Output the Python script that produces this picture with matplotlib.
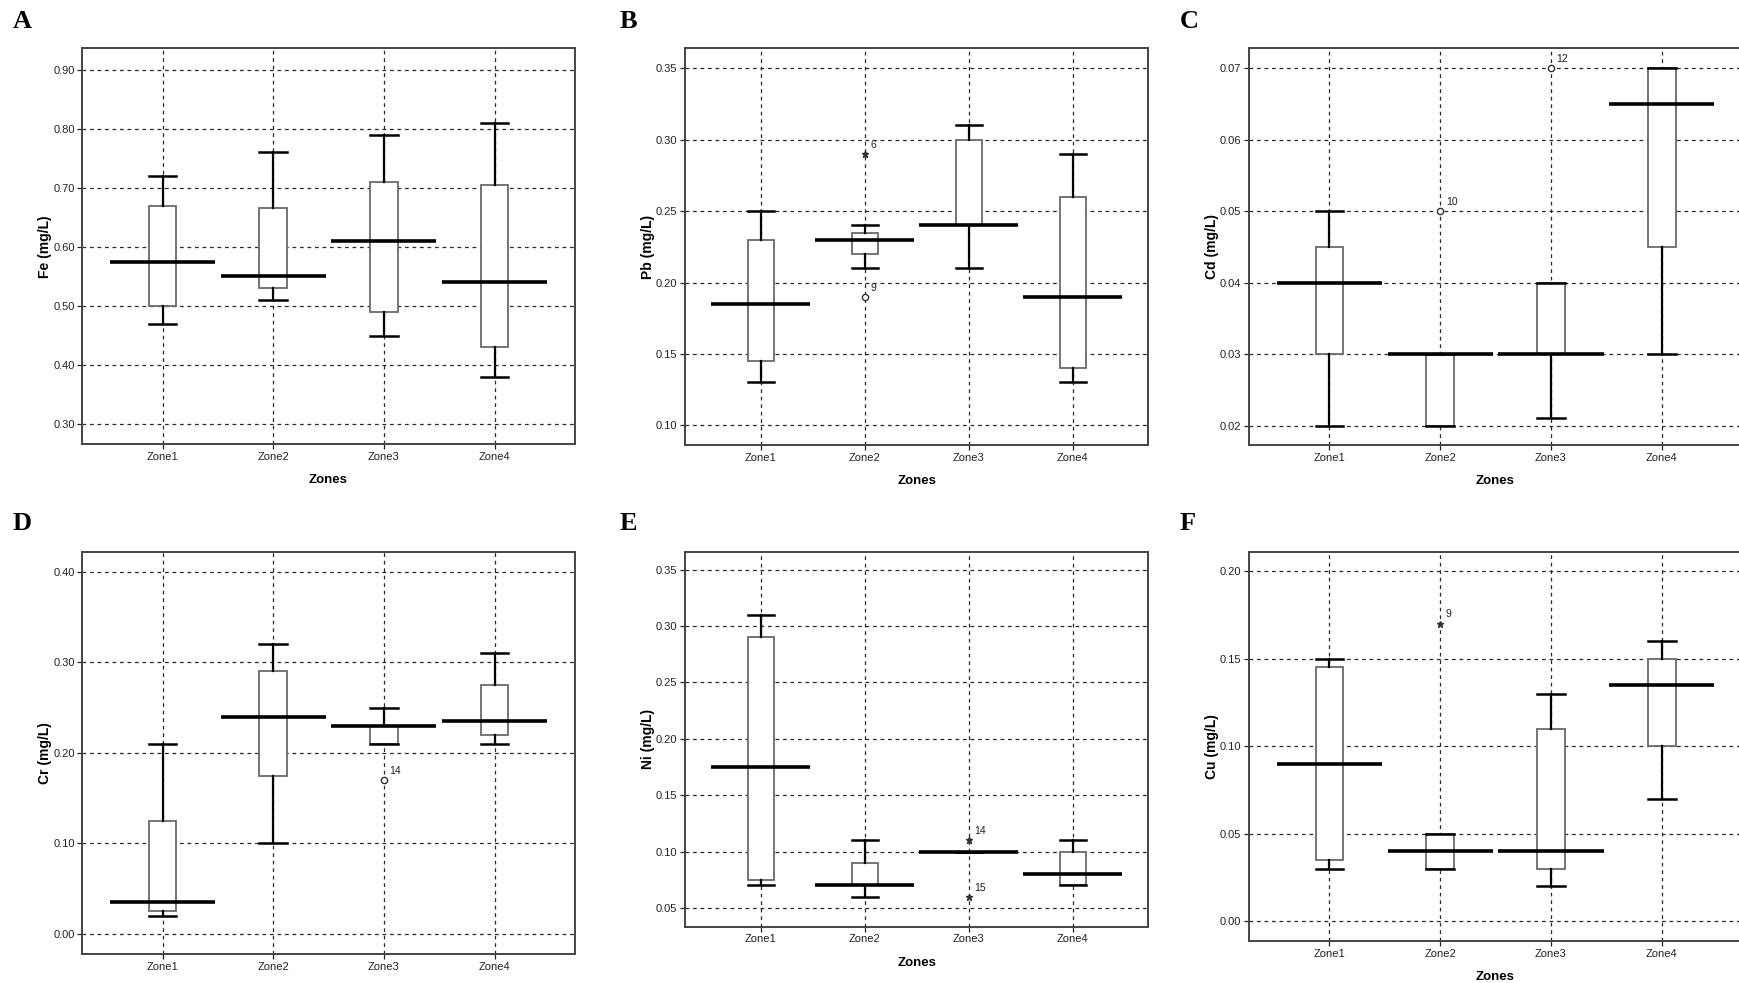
import matplotlib
matplotlib.use('Agg')
import matplotlib.pyplot as plt
from matplotlib import font_manager
from matplotlib.ticker import FormatStrFormatter

available = {f.name for f in font_manager.fontManager.ttflist}
NARROW = 'Liberation Sans Narrow' if 'Liberation Sans Narrow' in available else 'Liberation Sans'
SANS = 'Liberation Sans'
SERIF = 'Liberation Serif'
plt.rcParams['font.family'] = [NARROW, 'DejaVu Sans']

zones = ['Zone1', 'Zone2', 'Zone3', 'Zone4']

# ---- Fe ----
fe_whislo = [0.47, 0.51, 0.45, 0.38]
fe_q1 = [0.50, 0.53, 0.49, 0.43]
fe_med = [0.575, 0.55, 0.61, 0.54]
fe_q3 = [0.67, 0.665, 0.71, 0.705]
fe_whishi = [0.72, 0.76, 0.79, 0.81]
fe_outliers = []

# ---- Pb ----
pb_whislo = [0.13, 0.21, 0.21, 0.13]
pb_q1 = [0.145, 0.22, 0.24, 0.14]
pb_med = [0.185, 0.23, 0.24, 0.19]
pb_q3 = [0.23, 0.235, 0.30, 0.26]
pb_whishi = [0.25, 0.24, 0.31, 0.29]
pb_outliers = [(2, 0.29, '6', 'extreme'), (2, 0.19, '9', 'outlier')]

# ---- Cd ----
cd_whislo = [0.02, 0.02, 0.021, 0.03]
cd_q1 = [0.03, 0.02, 0.03, 0.045]
cd_med = [0.04, 0.03, 0.03, 0.065]
cd_q3 = [0.045, 0.03, 0.04, 0.07]
cd_whishi = [0.05, 0.03, 0.04, 0.07]
cd_outliers = [(2, 0.05, '10', 'outlier'), (3, 0.07, '12', 'outlier')]

# ---- Cr ----
cr_whislo = [0.02, 0.10, 0.21, 0.21]
cr_q1 = [0.025, 0.175, 0.21, 0.22]
cr_med = [0.035, 0.24, 0.23, 0.235]
cr_q3 = [0.125, 0.29, 0.23, 0.275]
cr_whishi = [0.21, 0.32, 0.25, 0.31]
cr_outliers = [(3, 0.17, '14', 'outlier')]

# ---- Ni ----
ni_whislo = [0.07, 0.06, 0.10, 0.07]
ni_q1 = [0.075, 0.07, 0.10, 0.07]
ni_med = [0.175, 0.07, 0.10, 0.08]
ni_q3 = [0.29, 0.09, 0.10, 0.10]
ni_whishi = [0.31, 0.11, 0.10, 0.11]
ni_outliers = [(3, 0.11, '14', 'extreme'), (3, 0.06, '15', 'extreme')]

# ---- Cu ----
cu_whislo = [0.03, 0.03, 0.02, 0.07]
cu_q1 = [0.035, 0.03, 0.03, 0.10]
cu_med = [0.09, 0.04, 0.04, 0.135]
cu_q3 = [0.145, 0.05, 0.11, 0.15]
cu_whishi = [0.15, 0.05, 0.13, 0.16]
cu_outliers = [(2, 0.17, '9', 'extreme')]

panels = [
    ('A', 'Fe (mg/L)', fe_whislo, fe_q1, fe_med, fe_q3, fe_whishi, fe_outliers,
     (0.266, 0.936), [0.30, 0.40, 0.50, 0.60, 0.70, 0.80, 0.90], True),
    ('B', 'Pb (mg/L)', pb_whislo, pb_q1, pb_med, pb_q3, pb_whishi, pb_outliers,
     (0.086, 0.364), [0.10, 0.15, 0.20, 0.25, 0.30, 0.35], True),
    ('C', 'Cd (mg/L)', cd_whislo, cd_q1, cd_med, cd_q3, cd_whishi, cd_outliers,
     (0.01725, 0.0728), [0.02, 0.03, 0.04, 0.05, 0.06, 0.07], True),
    ('D', 'Cr (mg/L)', cr_whislo, cr_q1, cr_med, cr_q3, cr_whishi, cr_outliers,
     (-0.022, 0.422), [0.00, 0.10, 0.20, 0.30, 0.40], False),
    ('E', 'Ni (mg/L)', ni_whislo, ni_q1, ni_med, ni_q3, ni_whishi, ni_outliers,
     (0.0334, 0.366), [0.05, 0.10, 0.15, 0.20, 0.25, 0.30, 0.35], True),
    ('F', 'Cu (mg/L)', cu_whislo, cu_q1, cu_med, cu_q3, cu_whishi, cu_outliers,
     (-0.0112, 0.211), [0.00, 0.05, 0.10, 0.15, 0.20], True),
]

W, H = 1739, 983
# pixel boxes: left, right, top, bottom
boxes_px = [
    (82.3, 574.8, 48.3, 444.3),
    (685.1, 1148.3, 48.3, 445.3),
    (1249.1, 1742.0, 48.3, 445.3),
    (82.3, 574.8, 551.7, 954.0),
    (685.1, 1148.3, 551.7, 926.7),
    (1249.1, 1742.0, 551.7, 941.0),
]
letter_px = [(13, 10), (620, 10), (1180, 10), (13, 512), (620, 512), (1180, 512)]

fig = plt.figure(figsize=(W / 100, H / 100), dpi=100)

positions = [1, 2, 3, 4]
for (letter, ylab, wlo, q1, med, q3, whi, outl, ylim, yticks, show_xlabel), (l, r, t, b), (lx, ly) in zip(panels, boxes_px, letter_px):
    ax = fig.add_axes([l / W, 1 - b / H, (r - l) / W, (b - t) / H])
    stats = []
    for i in range(4):
        stats.append(dict(whislo=wlo[i], q1=q1[i], med=med[i], q3=q3[i], whishi=whi[i], fliers=[]))
    ax.bxp(stats, positions=positions, widths=0.25, capwidths=0.25, patch_artist=True,
           showfliers=False,
           boxprops=dict(facecolor='white', edgecolor='#6a6a6a', linewidth=1.3),
           whiskerprops=dict(color='black', linewidth=1.6),
           capprops=dict(color='black', linewidth=1.8),
           medianprops=dict(linewidth=0))
    ax.hlines(med, [p - 0.475 for p in positions], [p + 0.475 for p in positions],
              color='black', linewidth=2.6, zorder=5)
    for zi, val, lab, kind in outl:
        if kind == 'outlier':
            ax.plot([zi], [val], marker='o', markersize=4.5, markerfacecolor='white',
                    markeredgecolor='#333333', markeredgewidth=1.0, linestyle='none', zorder=6)
        else:
            ax.plot([zi], [val], marker='*', markersize=5, color='#333333',
                    linestyle='none', zorder=6)
        ax.annotate(lab, (zi, val), xytext=(4, 3), textcoords='offset points',
                    fontsize=7.5, family=SANS, color='#222222', ha='left', va='bottom')

    ax.set_xlim(0.275, 4.725)
    ax.set_ylim(*ylim)
    ax.set_xticks(positions)
    ax.set_xticklabels(zones)
    ax.set_yticks(yticks)
    ax.yaxis.set_major_formatter(FormatStrFormatter('%.2f'))
    ax.grid(True, linestyle=(0, (3, 3)), color='#2a2a2a', linewidth=0.9)
    ax.set_axisbelow(True)
    ax.tick_params(direction='out', length=3.5, width=0.9, labelsize=8, pad=2, colors='#222222')
    for s in ax.spines.values():
        s.set_color('#444444')
        s.set_linewidth(1.4)

    ax.set_ylabel(ylab, fontsize=10, fontweight='bold', family=SANS)
    ax.yaxis.label.set_va('center')
    ax.yaxis.set_label_coords(-37 / (r - l), 0.5)
    if show_xlabel:
        ax.set_xlabel('Zones', fontsize=9.5, fontweight='bold', family=SANS)
        ax.xaxis.label.set_va('center')
        ax.xaxis.set_label_coords(0.5, -36 / (b - t))

    fig.text(lx / W, 1 - ly / H, letter, fontsize=19, fontweight='bold', family=SERIF,
             ha='left', va='top')

fig.savefig('out.png', dpi=100)
